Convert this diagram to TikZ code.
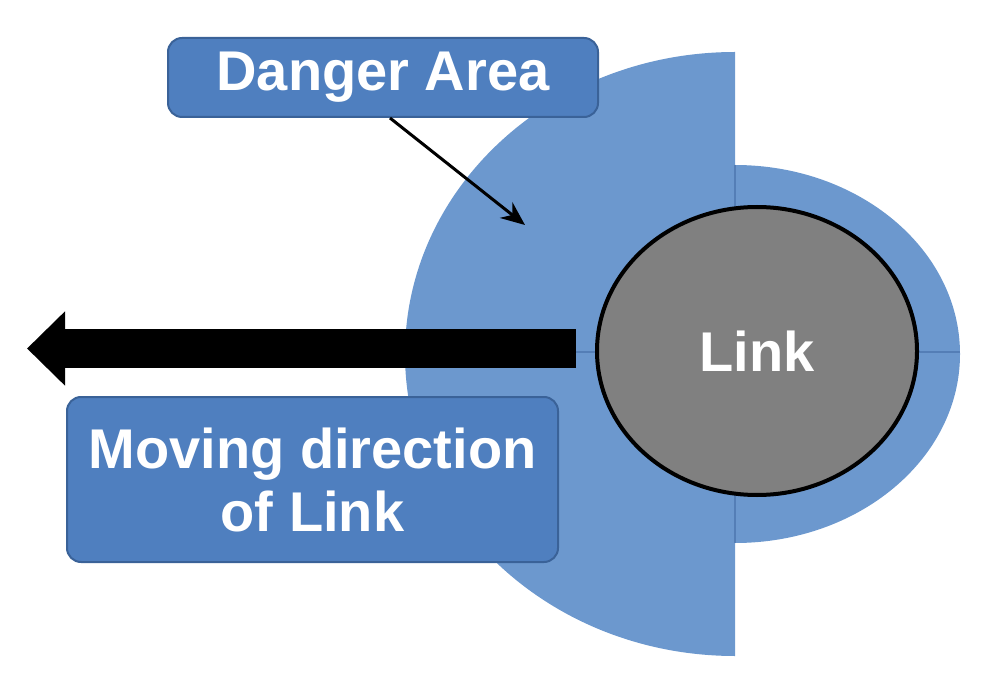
\documentclass[tikz,border=0pt]{standalone}
\usepackage{fontspec}
\setmainfont{Liberation Sans}
\usetikzlibrary{arrows.meta,shapes.geometric}
\definecolor{pieblue}{RGB}{108,152,206}
\definecolor{seam}{RGB}{84,126,182}
\definecolor{boxblue}{RGB}{79,127,191}
\definecolor{boxedge}{RGB}{58,98,152}
\definecolor{linkgray}{RGB}{128,128,128}
\begin{document}
\begin{tikzpicture}[x=0.5pt,y=0.5pt,
  bigfont/.style={font=\bfseries\fontsize{28}{31.5}\selectfont},
  labelbox/.style={draw=boxedge, line width=1pt, fill=boxblue, rounded corners=7pt,
    text=white, bigfont, align=center, inner sep=0pt},
  seamline/.style={draw=seam, line width=0.6pt},
]
\useasboundingbox (0,0) rectangle (1000,686);
% danger area pie
\fill[pieblue] (735,634) arc[start angle=90,end angle=270,x radius=330,y radius=302] -- cycle;
\fill[pieblue] (735,143) arc[start angle=-90,end angle=90,x radius=225,y radius=189] -- cycle;
\draw[seamline] (735,521) -- (735,143);
\draw[seamline] (405,334) -- (960,334);
% link
\node[ellipse, draw=black, line width=2pt, fill=linkgray, minimum width=160pt,
  minimum height=144pt, inner sep=0pt, text=white, bigfont] (link) at (757,335) {Link};
% moving arrow
\coordinate (mvtail) at (576,337.5);
\coordinate (mvtip) at (27,337.5);
\draw[line width=19.5pt, -{Triangle[length=19pt,width=36pt]}] (mvtail) -- (mvtip);
% boxes
\node[labelbox, minimum width=215pt, minimum height=39.5pt] (danger) at (383,608.5) {Danger Area};
\node[labelbox, minimum width=245.5pt, minimum height=82.5pt] (moving) at (312.5,206.5) {Moving direction\\of Link};
% pointer
\coordinate (dtip) at (525,461);
\draw[line width=1.5pt, -{Stealth[length=12pt,width=10pt]}] ([xshift=3.5pt]danger.south) -- (dtip);
\end{tikzpicture}
\end{document}
